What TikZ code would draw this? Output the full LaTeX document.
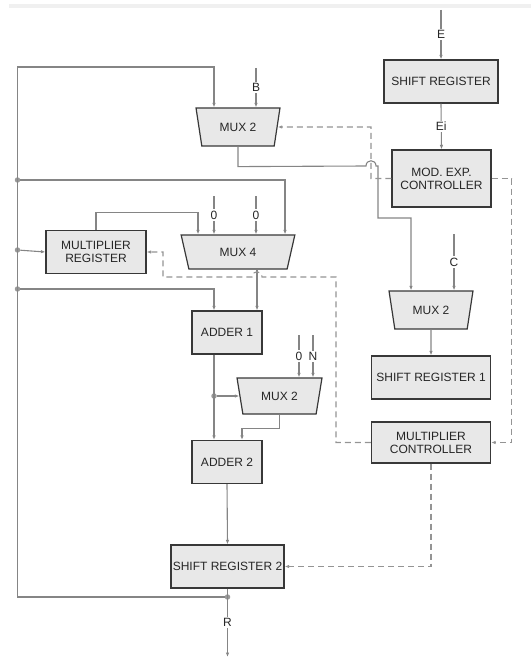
\documentclass[tikz,border=0pt]{standalone}
\usepackage{fontspec}
\setmainfont{Liberation Sans}
\usetikzlibrary{shapes.geometric,arrows.meta}

\begin{document}
\begin{tikzpicture}[x=1pt,y=-1pt,
  font=\fontsize{12}{13}\selectfont,
  blk/.style={draw=black!78, fill=black!9, line width=1.2pt, text=black!85, inner sep=0pt, align=center},
  mux/.style={blk, trapezium, shape border rotate=180, trapezium angle=71, trapezium stretches=true},
  wire/.style={draw=black!48, line width=1.1pt},
  arr/.style={wire, -{Latex[length=4.5pt,width=3.5pt]}},
  ctl/.style={draw=black!42, line width=1.1pt, dash pattern=on 6pt off 4pt},
  carr/.style={ctl, -{Latex[length=4.5pt,width=3.5pt]}},
  lbl/.style={fill=white, inner sep=1.5pt, text=black!85},
  jn/.style={circle, fill=black!40, inner sep=0pt, minimum size=5.5pt}]
\useasboundingbox (0,0) rectangle (531,658);
\fill[black!6] (9,4) rectangle (531,8);

\node[blk, minimum width=114pt, minimum height=43pt] (shreg) at (441,81.5) {SHIFT REGISTER};
\node[blk, minimum width=99pt, minimum height=57pt] (modexp) at (441.5,178.5) {MOD. EXP.\\CONTROLLER};
\node[mux, minimum width=84pt, minimum height=38pt] (muxb) at (238,127) {MUX 2};
\node[blk, minimum width=100pt, minimum height=43pt] (mulreg) at (96,252) {MULTIPLIER\\REGISTER};
\node[mux, minimum width=114pt, minimum height=34pt] (mux4) at (238,252) {MUX 4};
\node[blk, minimum width=70pt, minimum height=43pt] (add1) at (227,332.5) {ADDER 1};
\node[mux, minimum width=85pt, minimum height=36pt] (muxn) at (279.5,396) {MUX 2};
\node[blk, minimum width=70pt, minimum height=43pt] (add2) at (227,462) {ADDER 2};
\node[blk, minimum width=113pt, minimum height=43pt] (shreg2) at (227.5,566.5) {SHIFT REGISTER 2};
\node[mux, minimum width=84pt, minimum height=38pt] (muxc) at (431,310) {MUX 2};
\node[blk, minimum width=119pt, minimum height=43pt] (shreg1) at (431,377.5) {SHIFT REGISTER 1};
\node[blk, minimum width=119pt, minimum height=41pt] (mulctl) at (431,442.5) {MULTIPLIER\\CONTROLLER};

\coordinate (inE) at (441,10);
\coordinate (inB) at (256,68);
\coordinate (inC) at (454,234);
\coordinate (in0a) at (214,196);
\coordinate (in0b) at (256,196);
\coordinate (in0c) at (299,335);
\coordinate (inN) at (313,335);
\coordinate (outR) at (227.5,657);
\coordinate (fbtop) at (17.5,67);
\coordinate (fbbot) at (17.5,597);

\node[jn] (j1) at (17.5,180) {};
\node[jn] (j2) at (17.5,250) {};
\node[jn] (j3) at (17.5,289) {};
\node[jn] (j4) at (214,396) {};
\node[jn] (j5) at (227.5,597) {};

\draw[arr] (inE) -- node[lbl]{E} (shreg.north);
\draw[arr] (shreg.south) -- node[lbl]{Ei} (modexp.north);
\draw[arr] (inB) -- node[lbl]{B} (inB |- muxb.north);
\draw[arr] (j5) -- (fbbot) -- (fbtop) -| (in0a |- muxb.north);
\draw[arr] (j1) -| ([xshift=47pt]mux4.north);
\draw[arr] (mulreg.north) -- ++(0,-17) -| ([xshift=-40pt]mux4.north);
\draw[arr] (in0a) -- node[lbl]{0} (in0a |- mux4.north);
\draw[arr] (in0b) -- node[lbl]{0} (in0b |- mux4.north);
\draw[arr] (j2) -- (mulreg.west);
\draw[arr] (j3) -| ([xshift=-13pt]add1.north);
\draw[arr] ([xshift=19pt]mux4.south) -- ([xshift=19pt]mux4.south |- add1.north);
\draw[arr] ([xshift=-13pt]add1.south) -- ([xshift=-13pt]add2.north);
\draw[arr] (j4) -- (j4 -| muxn.west);
\draw[arr] (in0c) -- node[lbl]{0} (in0c |- muxn.north);
\draw[arr] (inN) -- node[lbl]{N} (inN |- muxn.north);
\draw[arr] (muxn.south) -- ++(0,14) -| ([xshift=15pt]add2.north);
\draw[arr] (add2.south) -- (shreg2.north);
\draw[arr] (shreg2.south) -- node[lbl]{R} (outR);
\draw[arr] (muxb.south) -- ++(0,20) -- (366,166) .. controls (366,159) and (376,159) .. (376,166) -- (378,166) -- (378,218) -| ([xshift=-20pt]muxc.north);
\draw[arr] (inC) -- node[lbl]{C} (inC |- muxc.north);
\draw[arr] (muxc.south) -- (shreg1.north);

\draw[carr] (modexp.west) -| (371,127) -- (muxb.east);
\draw[carr] (modexp.east) -- ++(20,0) |- (mulctl.east);
\draw[carr] (mulctl.west) -| (336,277) -- (262,277) .. controls (262,270) and (252,270) .. (252,277) -- (163,277) |- (mulreg.east);
\draw[carr] (mulctl.south) |- (shreg2.east);
\end{tikzpicture}
\end{document}
